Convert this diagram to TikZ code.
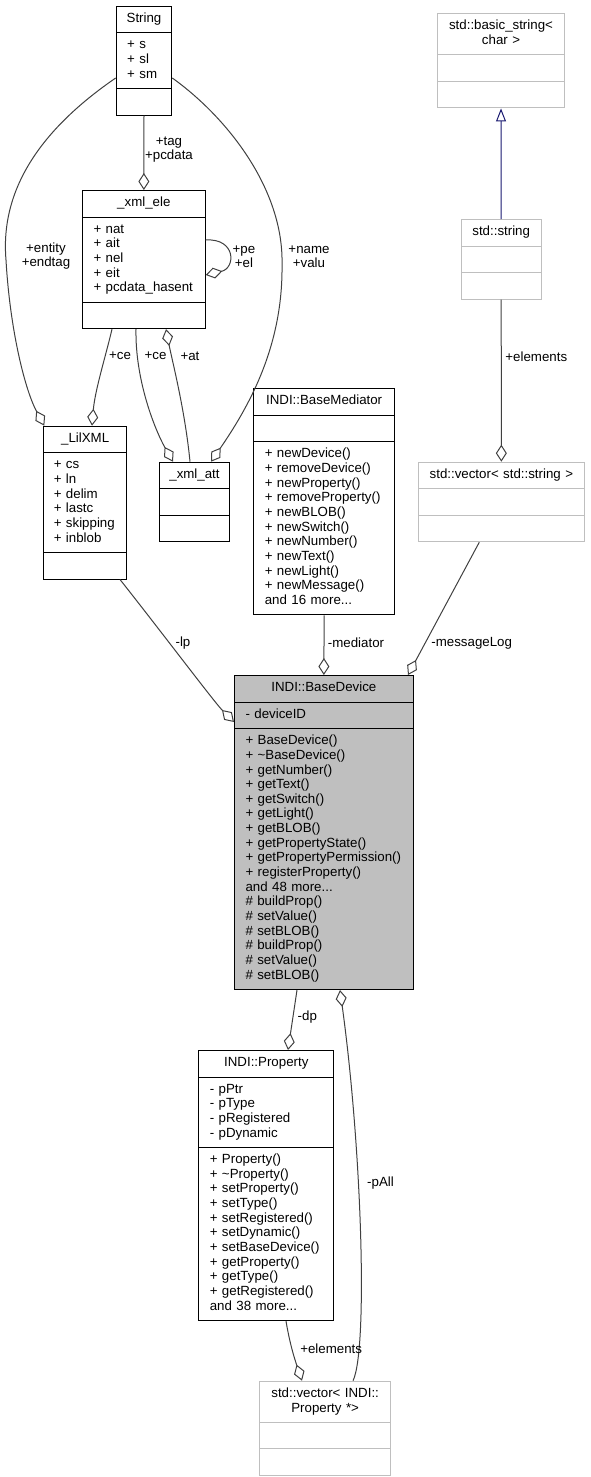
\documentclass[tikz,border=0pt]{standalone}
\usepackage{fontspec}
\setmainfont{Liberation Sans}
\usepackage{tikz}
\usepackage{xcolor}
\usetikzlibrary{shapes.multipart,arrows.meta}
\definecolor{gray75}{HTML}{BFBFBF}
\definecolor{edgegray}{HTML}{404040}
\definecolor{navyline}{HTML}{191970}
\newcommand\ctr[1]{\makebox[\linewidth][c]{#1}}
\hyphenpenalty=10000
\exhyphenpenalty=10000
\begin{document}
\begin{tikzpicture}[x=1pt,y=-1pt,
    cls/.style={rectangle split, rectangle split parts=3, draw=black, line width=1pt,
      inner xsep=11pt, inner ysep=5.42pt, align=left, anchor=north west,
      font=\fontsize{13.3}{14.66}\selectfont,
      execute at begin node=\strut, execute at end node=\strut},
    ext/.style={cls, draw=gray75},
    agg/.style={draw=edgegray, line width=1pt, -{Diamond[open, length=17pt, width=11pt]}},
    isa/.style={draw=navyline, line width=1pt, -{Triangle[open, length=13pt, width=10pt]}},
    lbl/.style={align=center, inner sep=0pt, font=\fontsize{13.3}{14}\selectfont}]
  \useasboundingbox (0,0) rectangle (590,1477);

  \node[cls, text width=33.6pt] (str) at (115.7,5.7)
    {\ctr{String}\nodepart{two}+ s\\+ sl\\+ sm\nodepart{three}};
  \node[cls, text width=100.7pt] (ele) at (82,190)
    {\ctr{\_xml\_ele}\nodepart{two}+ nat\\+ ait\\+ nel\\+ eit\\+ pcdata\_hasent\nodepart{three}};
  \node[cls, inner xsep=10pt, text width=62.7pt] (lil) at (43.3,425.7)
    {\ctr{\_LilXML}\nodepart{two}+ cs\\+ ln\\+ delim\\+ lastc\\+ skipping\\+ inblob\nodepart{three}};
  \node[cls, text width=48.6pt] (att) at (158.7,461.7)
    {\ctr{\_xml\_att}\nodepart{two}\nodepart{three}};
  \node[cls, text width=118.7pt] (med) at (253.3,388.3)
    {\ctr{INDI::BaseMediator}\nodepart{two}\nodepart{three}%
     + newDevice()\\+ removeDevice()\\+ newProperty()\\+ removeProperty()\\+ newBLOB()\\+ newSwitch()\\+ newNumber()\\+ newText()\\+ newLight()\\+ newMessage()\\and 16 more...};
  \node[ext, text width=105.6pt] (bstr) at (436.7,13.3)
    {\ctr{std::basic\_string<}\\\ctr{char >}\nodepart{two}\nodepart{three}};
  \node[ext, text width=58pt] (sstr) at (460.7,219)
    {\ctr{std::string}\nodepart{two}\nodepart{three}};
  \node[ext, text width=144.3pt] (vstr) at (417.7,461.7)
    {\ctr{std::vector< std::string >}\nodepart{two}\nodepart{three}};
  \node[cls, fill=gray75, text width=156.7pt] (dev) at (234,675)
    {\ctr{INDI::BaseDevice}\nodepart{two}- deviceID\nodepart{three}%
     + BaseDevice()\\+ \textasciitilde BaseDevice()\\+ getNumber()\\+ getText()\\+ getSwitch()\\+ getLight()\\+ getBLOB()\\+ getPropertyState()\\+ getPropertyPermission()\\+ registerProperty()\\and 48 more...\\\# buildProp()\\\# setValue()\\\# setBLOB()\\\# buildProp()\\\# setValue()\\\# setBLOB()};
  \node[cls, text width=113pt] (prop) at (198.3,1050)
    {\ctr{INDI::Property}\nodepart{two}- pPtr\\- pType\\- pRegistered\\- pDynamic\nodepart{three}%
     + Property()\\+ \textasciitilde Property()\\+ setProperty()\\+ setType()\\+ setRegistered()\\+ setDynamic()\\+ setBaseDevice()\\+ getProperty()\\+ getType()\\+ getRegistered()\\and 38 more...};
  \node[ext, text width=108.7pt] (vprop) at (259.3,1380.7)
    {\ctr{std::vector< INDI::}\\\ctr{Property *>}\nodepart{two}\nodepart{three}};

  \draw[agg] (str.south) -- (ele.north);
  \draw[agg] (ele.east |- 0,240) .. controls (236,238) and (236,268) .. (ele.east |- 0,275);
  \draw[agg] (str.west |- 0,78) .. controls (40,130) and (0,190) .. (6,260)
    .. controls (10,330) and (25,390) .. ([xshift=1pt]lil.north west);
  \draw[agg] (str.east |- 0,78) .. controls (228,118) and (284,190) .. (282,265)
    .. controls (283,345) and (250,405) .. (211,0 |- att.north);
  \draw[agg] (112,0 |- ele.south) .. controls (106,355) and (95,390) .. (92,0 |- lil.north);
  \draw[agg] (136,0 |- ele.south) .. controls (135,380) and (155,430) .. (173,0 |- att.north);
  \draw[agg] (190,0 |- att.north) .. controls (185,410) and (172,360) .. (166,0 |- ele.south);
  \draw[agg] (120,0 |- lil.south) .. controls (160,630) and (215,703) .. (dev.west |- 0,722);
  \draw[agg] (med.south) -- (dev.north);
  \draw[agg] (479.3,0 |- vstr.south) -- (408,0 |- dev.north);
  \draw[agg] (sstr.south) -- (vstr.north);
  \draw[isa] (sstr.north) -- (bstr.south);
  \draw[agg] (297,0 |- dev.south) -- (288,0 |- prop.north);
  \draw[agg] (353,0 |- vprop.north) .. controls (368,1350) and (362,1150) .. (340,0 |- dev.south);
  \draw[agg] (286,0 |- prop.south) .. controls (290,1345) and (295,1360) .. (302,0 |- vprop.north);

  \node[lbl] (ltag) at (169,150) {+tag\\+pcdata};
  \node[lbl] (lpe) at (244,256.5) {+pe\\+el};
  \node[lbl] (lent) at (46,256.5) {+entity\\+endtag};
  \node[lbl] (lname) at (309,256.5) {+name\\+valu};
  \node[lbl] (lce1) at (120,356) {+ce};
  \node[lbl] (lce2) at (155.5,356) {+ce};
  \node[lbl] (lat) at (190,356) {+at};
  \node[lbl] (llp) at (183,643) {-lp};
  \node[lbl] (lmed) at (356,643) {-mediator};
  \node[lbl] (lmsg) at (471.7,643) {-messageLog};
  \node[lbl] (lel1) at (536.3,356.7) {+elements};
  \node[lbl] (ldp) at (307.3,1016.7) {-dp};
  \node[lbl] (lall) at (380.5,1183) {-pAll};
  \node[lbl] (lel2) at (331.2,1348.3) {+elements};
\end{tikzpicture}
\end{document}
